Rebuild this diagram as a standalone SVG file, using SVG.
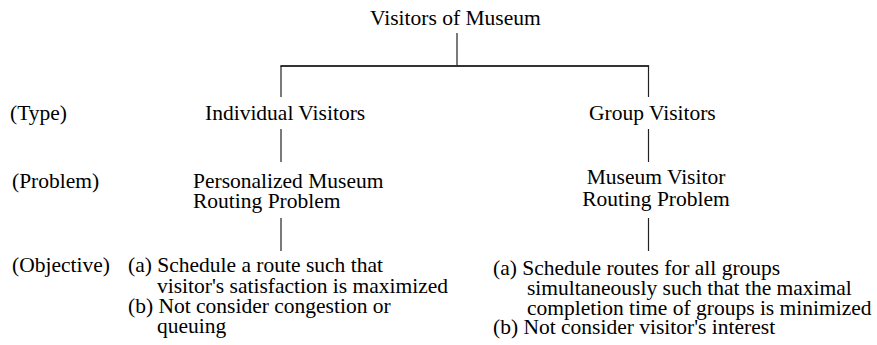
<svg xmlns="http://www.w3.org/2000/svg" width="877" height="345" viewBox="0 0 877 345">
<style>
  text { font-family: "Liberation Serif", "Times New Roman", serif; font-size: 21.5px; fill: #000; }
  .c { text-anchor: middle; }
  .ln { stroke: #222; stroke-width: 1.2; fill: none; }
  .bar { stroke: #333; stroke-width: 2; fill: none; }
</style>
<rect width="877" height="345" fill="#fff"/>
<g id="connectors">
  <line class="ln" x1="457" y1="33" x2="457" y2="66"/>
  <line class="bar" x1="280.4" y1="66" x2="649.1" y2="66"/>
  <line class="ln" x1="281" y1="66" x2="281" y2="97"/>
  <line class="ln" x1="648.5" y1="66" x2="648.5" y2="97"/>
  <line class="ln" x1="281" y1="129" x2="281" y2="162"/>
  <line class="ln" x1="648.5" y1="129" x2="648.5" y2="162"/>
  <line class="ln" x1="281" y1="218" x2="281" y2="251"/>
  <line class="ln" x1="648.5" y1="218" x2="648.5" y2="251"/>
</g>
<g id="row-labels">
  <text x="10" y="120">(Type)</text>
  <text x="12" y="188">(Problem)</text>
  <text x="12" y="272">(Objective)</text>
</g>
<g id="root">
  <text x="370" y="25">Visitors of Museum</text>
</g>
<g id="individual-visitors">
  <text x="205" y="120">Individual Visitors</text>
</g>
<g id="group-visitors">
  <text x="589" y="120">Group Visitors</text>
</g>
<g id="personalized-problem">
  <text x="193" y="188">Personalized Museum</text>
  <text x="193" y="208.3">Routing Problem</text>
</g>
<g id="museum-visitor-problem">
  <text class="c" x="656" y="184">Museum Visitor</text>
  <text class="c" x="656" y="205.5">Routing Problem</text>
</g>
<g id="individual-objective">
  <text x="128" y="272">(a) Schedule a route such that</text>
  <text x="157" y="292.5">visitor's satisfaction is maximized</text>
  <text x="128" y="313">(b) Not consider congestion or</text>
  <text x="157" y="333">queuing</text>
</g>
<g id="group-objective">
  <text x="493" y="275">(a) Schedule routes for all groups</text>
  <text x="527" y="294.8">simultaneously such that the maximal</text>
  <text x="527" y="314.6">completion time of groups is minimized</text>
  <text x="493" y="334.4">(b) Not consider visitor's interest</text>
</g>
</svg>
